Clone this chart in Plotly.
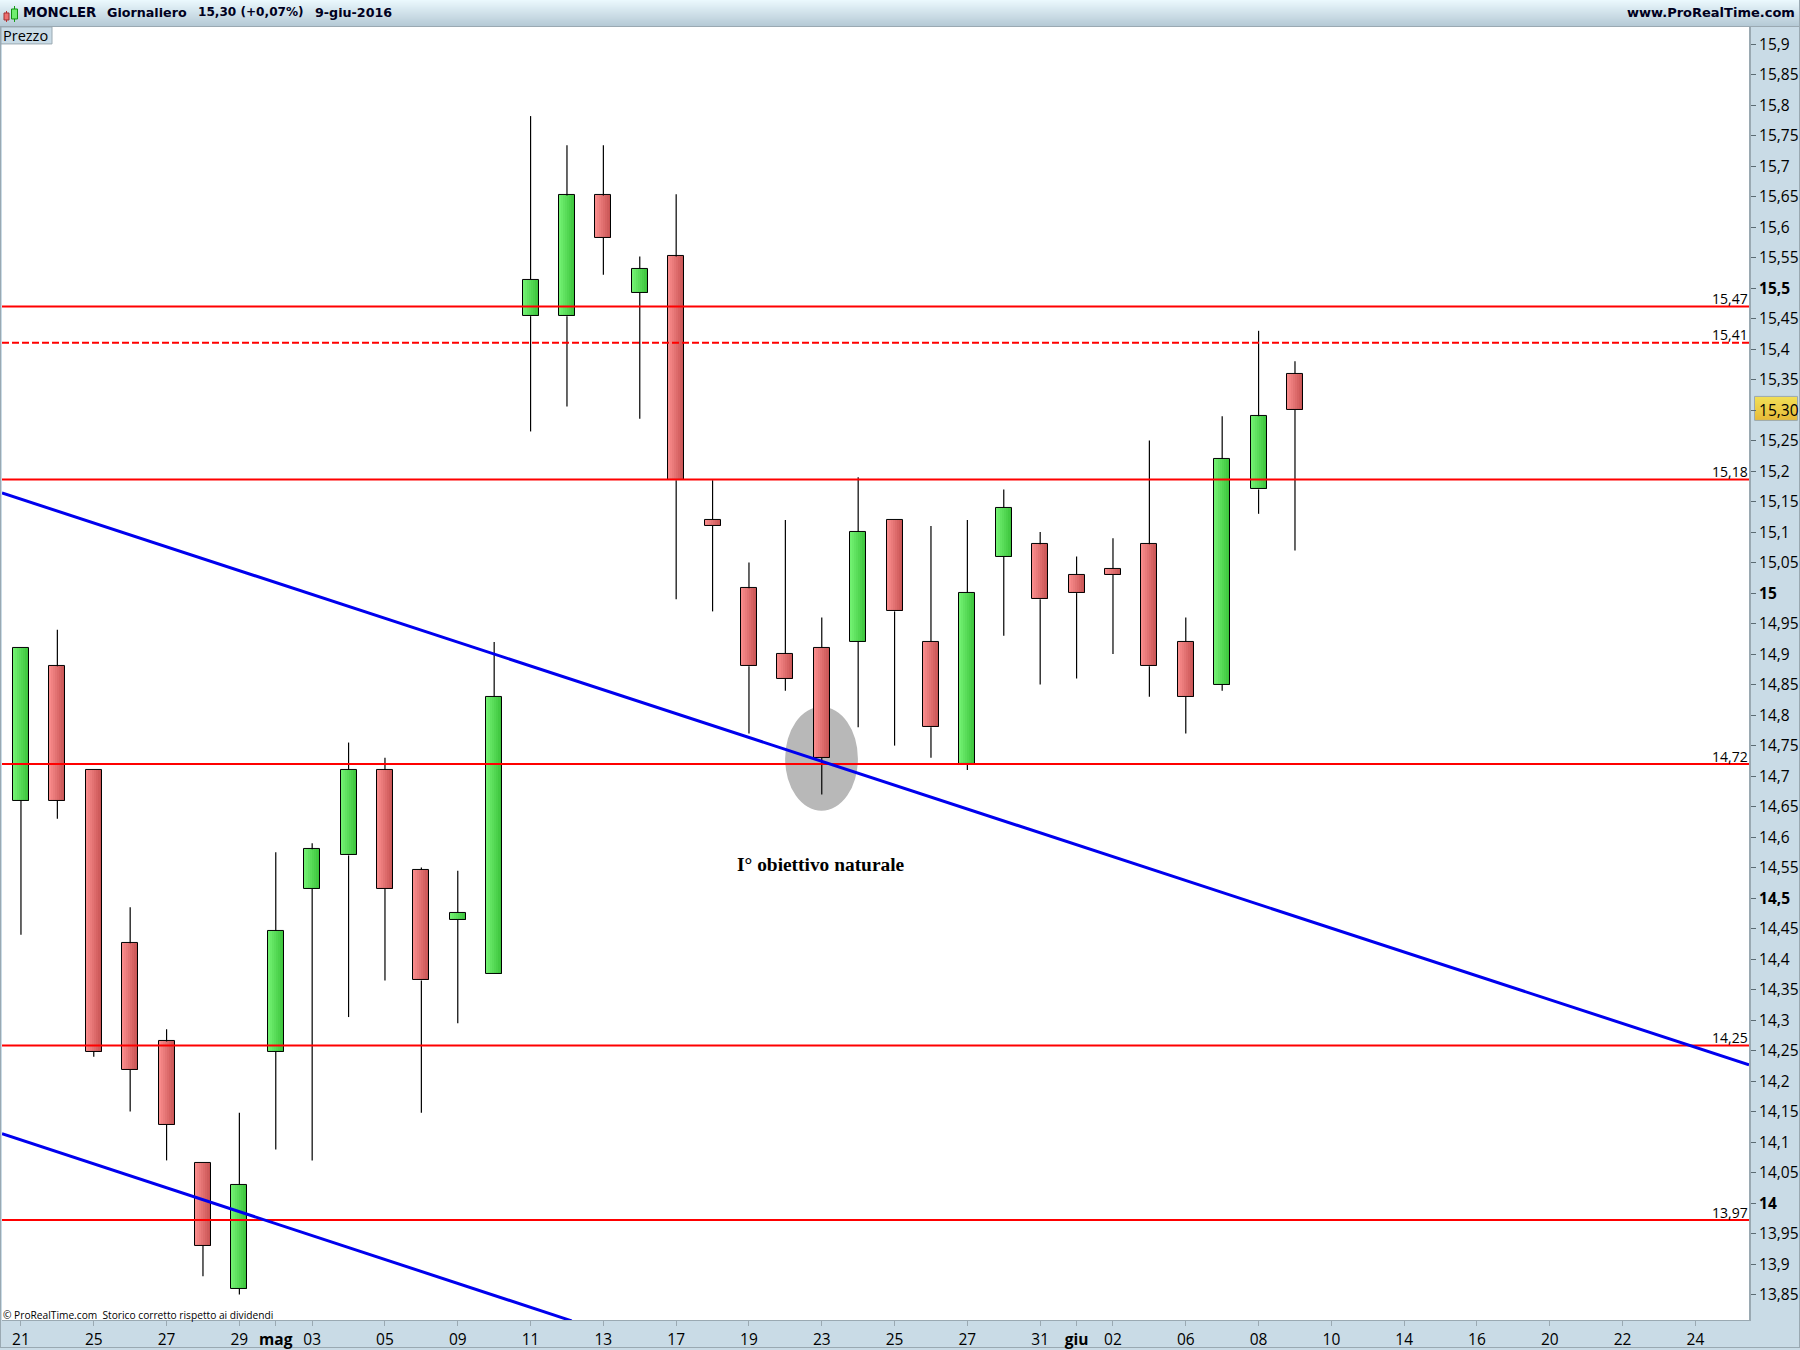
import plotly.graph_objects as go

W, H = 1800, 1350
PL, PR, PT, PB = 2, 1749, 27, 1322

date_labels = {0:"21",2:"25",4:"27",6:"29",7:"<b>mag</b>",8:"03",10:"05",12:"09",14:"11",16:"13",18:"17",20:"19",22:"23",24:"25",26:"27",28:"31",29:"<b>giu</b>",30:"02",32:"06",34:"08",36:"10",38:"14",40:"16",42:"20",44:"22",46:"24"}
index = list(range(36))
opens  = [14.66,14.88,14.71,14.426,14.265,14.065,13.86,14.248,14.515,14.57,14.71,14.546,14.464,14.375,15.454,15.454,15.652,15.492,15.552,15.12,15.008,14.90,14.91,14.92,15.12,14.92,14.72,15.06,15.08,15.03,15.04,15.08,14.92,14.85,15.17,15.36]
closes = [14.91,14.66,14.248,14.218,14.128,13.93,14.03,14.446,14.58,14.71,14.515,14.365,14.476,14.83,15.514,15.652,15.582,15.532,15.185,15.11,14.88,14.86,14.73,15.10,14.97,14.78,15.00,15.14,14.99,15.00,15.03,14.88,14.83,15.22,15.29,15.30]
highs  = [14.91,14.94,14.71,14.485,14.285,14.065,14.148,14.575,14.59,14.755,14.73,14.55,14.545,14.92,15.782,15.734,15.734,15.552,15.654,15.185,15.05,15.12,14.96,15.19,15.12,15.11,15.12,15.17,15.10,15.06,15.09,15.25,14.96,15.29,15.43,15.38]
lows   = [14.44,14.63,14.24,14.15,14.07,13.88,13.85,14.088,14.07,14.305,14.365,14.148,14.295,14.375,15.265,15.306,15.522,15.286,14.99,14.97,14.77,14.84,14.67,14.78,14.75,14.73,14.71,14.93,14.85,14.86,14.90,14.83,14.77,14.84,15.13,15.07]

y_ticks = [13.85,13.9,13.95,14,14.05,14.1,14.15,14.2,14.25,14.3,14.35,14.4,14.45,14.5,14.55,14.6,14.65,14.7,14.75,14.8,14.85,14.9,14.95,15,15.05,15.1,15.15,15.2,15.25,15.3,15.35,15.4,15.45,15.5,15.55,15.6,15.65,15.7,15.75,15.8,15.85,15.9]
y_text = ["13,85","13,9","13,95","<b>14</b>","14,05","14,1","14,15","14,2","14,25","14,3","14,35","14,4","14,45","<b>14,5</b>","14,55","14,6","14,65","14,7","14,75","14,8","14,85","14,9","14,95","<b>15</b>","15,05","15,1","15,15","15,2","15,25","15,30","15,35","15,4","15,45","<b>15,5</b>","15,55","15,6","15,65","15,7","15,75","15,8","15,85","15,9"]

level_values = [15.4697,15.4104,15.1863,14.7198,14.2582,13.9722]
level_labels = ["15,47","15,41","15,18","14,72","14,25","13,97"]
level_dash   = ["solid","7px,3px","solid","solid","solid","solid"]

x_range = [-0.521,47.473]
y_range = [13.8083,15.9281]

trend_a_x, trend_a_y = [-0.521,47.473], [15.1642,14.2266]
trend_b_x, trend_b_y = [-0.521,15.13], [14.1138,13.807]

FONT = "Open Sans"
HEAD = "DejaVu Sans"
RED_L, RED_R = (248,138,138), (200,84,84)
GRN_L, GRN_R = (112,240,112), (60,196,60)

def mix(a, b, t):
    return "rgb(%d,%d,%d)" % tuple(round(a[i]+(b[i]-a[i])*t) for i in range(3))

def px(x): return x/W
def py(y): return 1-y/H

def rect(x0,y0,x1,y1,fill,line=None,layer="below",lw=1):
    return dict(type="rect",xref="paper",yref="paper",x0=px(x0),x1=px(x1),y0=py(y0),y1=py(y1),
                fillcolor=fill,line=dict(color=line or "rgba(0,0,0,0)",width=lw if line else 0),layer=layer)

fig = go.Figure()

tops = [max(o,c) for o,c in zip(opens,closes)]
bots = [min(o,c) for o,c in zip(opens,closes)]
is_up = [c>=o for o,c in zip(opens,closes)]

BODY = 0.44
N = 8
for s in range(N):
    t = s/(N-1)
    fig.add_trace(go.Bar(x=index,y=[a-b for a,b in zip(tops,bots)],base=bots,
        width=BODY/N,offset=-BODY/2+s*BODY/N,
        marker=dict(color=[mix(GRN_L,GRN_R,t) if u else mix(RED_L,RED_R,t) for u in is_up],line=dict(width=0)),
        hoverinfo="skip",showlegend=False))
fig.add_trace(go.Bar(x=index,y=[a-b for a,b in zip(tops,bots)],base=bots,width=BODY,offset=-BODY/2,
    marker=dict(color="rgba(0,0,0,0)",line=dict(color="black",width=1)),showlegend=False))

wx, wy = [], []
for i,h,l,a,b in zip(index,highs,lows,tops,bots):
    wx += [i,i,None,i,i,None]
    wy += [h,a,None,b,l,None]
fig.add_trace(go.Scatter(x=wx,y=wy,mode="lines",line=dict(color="black",width=1.2),showlegend=False,hoverinfo="skip"))

for v,d in zip(level_values,level_dash):
    fig.add_trace(go.Scatter(x=x_range,y=[v,v],mode="lines",line=dict(color="#ff0000",width=2,dash=d),showlegend=False,hoverinfo="skip"))
fig.add_trace(go.Scatter(x=trend_a_x,y=trend_a_y,mode="lines",line=dict(color="#0000ee",width=3),showlegend=False,hoverinfo="skip"))
fig.add_trace(go.Scatter(x=trend_b_x,y=trend_b_y,mode="lines",line=dict(color="#0000ee",width=3),showlegend=False,hoverinfo="skip"))

shapes = []
c_top, c_bot = (234,248,253), (182,202,214)
for k in range(26):
    shapes.append(rect(0,k,W,k+1,mix(c_top,c_bot,k/25)))
shapes.append(rect(0,26,W,27,"#9aa9b2"))
shapes.append(rect(W-1,0,W,H,"#9aa9b2"))
shapes.append(rect(0,H-1,W,H,"#9aa9b2"))
shapes.append(rect(0,27,1,H,"#9aa9b2",layer="above"))
b_top, b_bot = (255,224,40), (240,176,0)
for k in range(24):
    shapes.append(rect(1755,397+k,1797,398+k,mix(b_top,b_bot,k/23)))
shapes.append(dict(type="rect",xref="paper",yref="paper",x0=px(1754.5),x1=px(1797.5),y0=py(397),y1=py(421),
                   line=dict(color="#9aa9b2",width=1),fillcolor="rgba(0,0,0,0)",layer="below"))
shapes.append(rect(1,27,52,44,"#c9dbe6",line="#9aa9b2",layer="above"))
shapes.append(dict(type="line",xref="paper",yref="paper",x0=px(6.5),x1=px(6.5),y0=py(11),y1=py(22),line=dict(color="#c03030",width=1),layer="above"))
shapes.append(dict(type="line",xref="paper",yref="paper",x0=px(14.5),x1=px(14.5),y0=py(6),y1=py(22),line=dict(color="#10a010",width=1),layer="above"))
shapes.append(rect(4,13,9,20,"#ee7070",line="#a03030",layer="above"))
shapes.append(rect(11.5,9,17.5,19,"#70ee70",line="#109010",layer="above"))
shapes.append(dict(type="circle",xref="x",yref="y",x0=20.993,x1=22.993,y0=14.6433,y1=14.8136,fillcolor="#b8b8b8",line=dict(width=0),layer="below"))

def txt(x,y,s,size=14,color="black",anchor="left",family=FONT):
    return dict(xref="paper",yref="paper",x=px(x),y=py(y),text=s,showarrow=False,xanchor=anchor,yanchor="middle",
                font=dict(family=family,size=size,color=color),borderpad=0,borderwidth=0)

ann = [
    txt(23,12.5,"<b>MONCLER</b>",13.3,"#000020",family=HEAD),
    txt(107,12.5,"<b>Giornaliero</b>",12.7,"#000020",family=HEAD),
    txt(198,12.5,"<b>15,30 (+0,07%)</b>",12.1,"#000020",family=HEAD),
    txt(315,12.5,"<b>9-giu-2016</b>",12.7,"#000020",family=HEAD),
    txt(1795,12.5,"<b>www.ProRealTime.com</b>",13,"#000020","right",family=HEAD),
    txt(3,35.5,"Prezzo",14.5),
    txt(3,1317,"© ProRealTime.com  Storico corretto rispetto ai dividendi",10.2),
    txt(821,865.5,"<b>I° obiettivo naturale</b>",19.4,"black","center","Liberation Serif"),
]
for v,l in zip(level_values,level_labels):
    ann.append(dict(xref="paper",yref="y",x=px(1748.5),y=v,yshift=8,text=l,showarrow=False,xanchor="right",yanchor="middle",
                    font=dict(family=FONT,size=14,color="black"),borderpad=0))

fig.update_layout(
    width=W,height=H,autosize=False,margin=dict(l=0,r=0,t=0,b=0,pad=0),
    paper_bgcolor="#c9dbe6",plot_bgcolor="white",barmode="overlay",bargap=0,showlegend=False,
    font=dict(family=FONT,size=15.5,color="black"),
    xaxis=dict(domain=[PL/W,PR/W],range=x_range,tickmode="array",tickvals=list(date_labels.keys()),ticktext=list(date_labels.values()),
               showgrid=False,zeroline=False,showline=True,linecolor="#9aa9b2",linewidth=1,ticks="outside",ticklen=5,tickcolor="#9aa9b2",
               tickfont=dict(family=FONT,size=15.5,color="black"),tickangle=0,fixedrange=True),
    yaxis=dict(domain=[1-PB/H,1-PT/H],range=y_range,side="right",tickmode="array",tickvals=y_ticks,ticktext=y_text,
               showgrid=False,zeroline=False,showline=True,linecolor="#9aa9b2",linewidth=2,ticks="outside",ticklen=5,tickcolor="#5a6a72",
               tickfont=dict(family=FONT,size=15.5,color="black"),fixedrange=True),
    shapes=shapes,annotations=ann,
)
fig.write_html("out.html",config=dict(displayModeBar=False),post_script="document.body.style.margin='0';document.body.style.overflow='hidden';")
